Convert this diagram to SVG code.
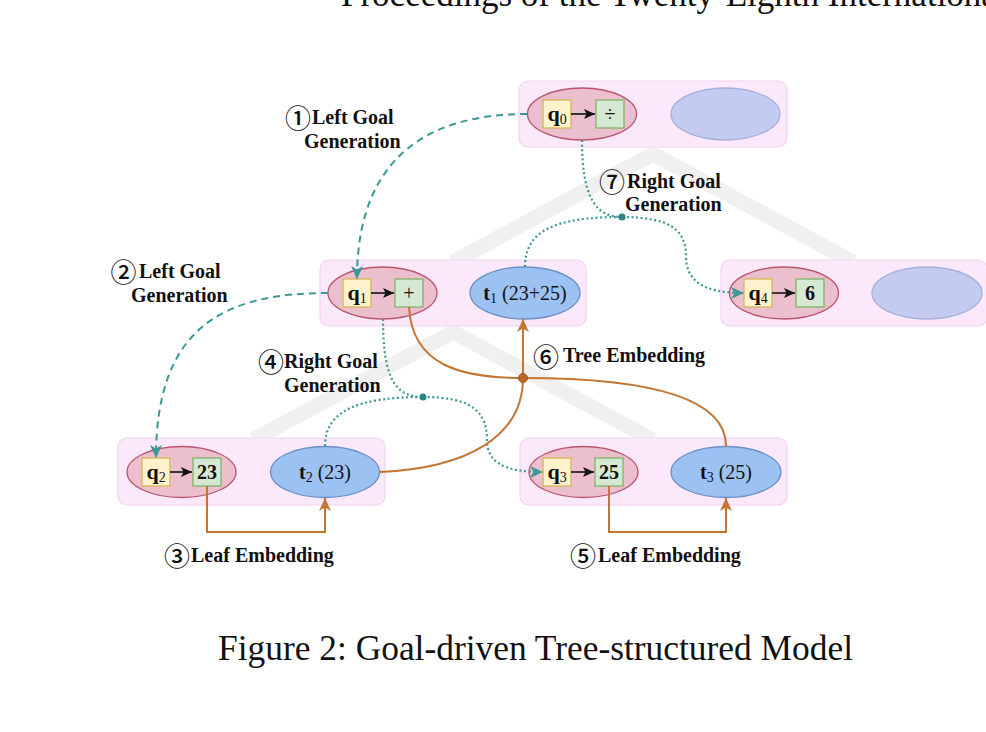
<svg xmlns="http://www.w3.org/2000/svg" width="986" height="732" viewBox="0 0 986 732">
<defs>
<style>
.band{fill:none;stroke:#f0f0f0;stroke-width:15;stroke-linejoin:miter}
.grp{fill:#fbe8fb;stroke:#f4d2f2;stroke-width:1.2}
.red{fill:#ecbfce;stroke:#b9566c;stroke-width:1.3}
.blue{fill:#9cc2f4;stroke:#6b8fc4;stroke-width:1.3}
.lav{fill:#c3cbf0;stroke:#a6b1dc;stroke-width:1.3}
.yb{fill:#fff2cc;stroke:#d6b656;stroke-width:1.3}
.gb{fill:#d5e8d4;stroke:#82b366;stroke-width:1.3}
.in{stroke:#111;stroke-width:1.6;fill:none}
.nl{font-family:"Liberation Serif","Times New Roman",serif;font-size:20px;fill:#111}
.b{font-weight:bold}
.lab{font-family:"Liberation Serif","Times New Roman",serif;font-size:20px;font-weight:bold;fill:#111}
.num{font-family:"Noto Sans CJK SC","DejaVu Sans",sans-serif;font-size:26px;font-weight:500;fill:#111}
.dash{fill:none;stroke:#3a9896;stroke-width:2;stroke-dasharray:7,5}
.dot{fill:none;stroke:#3a9896;stroke-width:2.2;stroke-dasharray:2,2.6}
.org{fill:none;stroke:#c47532;stroke-width:2}
.cap{font-family:"Liberation Serif","Times New Roman",serif;font-size:35px;fill:#111}
</style>
<marker id="ab" markerUnits="userSpaceOnUse" markerWidth="12" markerHeight="10" refX="11" refY="5" orient="auto"><path d="M0,0 L11,5 L0,10 L2.5,5 Z" fill="#111"/></marker>
<marker id="at" markerUnits="userSpaceOnUse" markerWidth="14" markerHeight="14" refX="13" refY="7" orient="auto"><path d="M0,1 L13,7 L0,13 L3.5,7 Z" fill="#3a9896"/></marker>
<marker id="ao" markerUnits="userSpaceOnUse" markerWidth="14" markerHeight="12" refX="13" refY="6" orient="auto"><path d="M0,0 L13,6 L0,12 L3.5,6 Z" fill="#c47532"/></marker>
</defs>

<text class="cap" x="341" y="6">Proceedings of the Twenty-Eighth International</text>

<g id="tree-bands">
<path class="band" d="M453,262 L653,154 L853,262"/>
<path class="band" d="M253,440 L453,332 L653,440"/>
</g>

<g id="node-root">
<rect class="grp" x="519" y="81" width="268" height="66" rx="9"/>
<ellipse class="red" cx="582" cy="114" rx="54.5" ry="26"/>
<rect class="yb" x="543" y="100" width="28" height="28"/>
<rect class="gb" x="596" y="100" width="28" height="28"/>
<line class="in" x1="571" y1="114" x2="595" y2="114" marker-end="url(#ab)"/>
<text class="nl" x="557" y="121" text-anchor="middle"><tspan class="b" font-size="22">q</tspan><tspan font-size="14" dy="3">0</tspan></text>
<text class="nl" x="610" y="121" text-anchor="middle">÷</text>
<ellipse class="lav" cx="725.5" cy="114" rx="54.5" ry="26"/>
</g>

<g id="node-plus">
<rect class="grp" x="320" y="260" width="266" height="66" rx="9"/>
<ellipse class="red" cx="382.5" cy="293" rx="54.5" ry="26"/>
<rect class="yb" x="343" y="279" width="28" height="28"/>
<rect class="gb" x="395" y="279" width="28" height="28"/>
<line class="in" x1="371" y1="293" x2="394" y2="293" marker-end="url(#ab)"/>
<text class="nl" x="357" y="300" text-anchor="middle"><tspan class="b" font-size="22">q</tspan><tspan font-size="14" dy="3">1</tspan></text>
<text class="nl" x="409" y="300" text-anchor="middle">+</text>
<ellipse class="blue" cx="525" cy="293" rx="55" ry="26"/>
<text class="nl" x="525" y="300" text-anchor="middle"><tspan class="b">t</tspan><tspan font-size="14" dy="3">1</tspan><tspan dy="-3"> (23+25)</tspan></text>
</g>

<g id="node-six">
<rect class="grp" x="721" y="260" width="266" height="66" rx="9"/>
<ellipse class="red" cx="784" cy="293" rx="54.5" ry="26"/>
<rect class="yb" x="744" y="279" width="28" height="28"/>
<rect class="gb" x="796" y="279" width="28" height="28"/>
<line class="in" x1="772" y1="293" x2="795" y2="293" marker-end="url(#ab)"/>
<text class="nl" x="758" y="300" text-anchor="middle"><tspan class="b" font-size="22">q</tspan><tspan font-size="14" dy="3">4</tspan></text>
<text class="nl b" x="810" y="300" text-anchor="middle" font-size="21">6</text>
<ellipse class="lav" cx="927" cy="293" rx="55" ry="26"/>
</g>

<g id="node-23">
<rect class="grp" x="118" y="438" width="267" height="67" rx="9"/>
<ellipse class="red" cx="181.5" cy="472" rx="54.5" ry="25.5"/>
<rect class="yb" x="142" y="458" width="28" height="28"/>
<rect class="gb" x="193" y="458" width="28" height="28"/>
<line class="in" x1="170" y1="472" x2="192" y2="472" marker-end="url(#ab)"/>
<text class="nl" x="156" y="479" text-anchor="middle"><tspan class="b" font-size="22">q</tspan><tspan font-size="14" dy="3">2</tspan></text>
<text class="nl b" x="207" y="479" text-anchor="middle" font-size="21">23</text>
<ellipse class="blue" cx="325" cy="472" rx="54.5" ry="25.5"/>
<text class="nl" x="325" y="479" text-anchor="middle"><tspan class="b">t</tspan><tspan font-size="14" dy="3">2</tspan><tspan dy="-3"> (23)</tspan></text>
</g>

<g id="node-25">
<rect class="grp" x="520" y="438" width="267" height="67" rx="9"/>
<ellipse class="red" cx="583.5" cy="472" rx="54.5" ry="25.5"/>
<rect class="yb" x="543" y="458" width="28" height="28"/>
<rect class="gb" x="595" y="458" width="28" height="28"/>
<line class="in" x1="571" y1="472" x2="594" y2="472" marker-end="url(#ab)"/>
<text class="nl" x="557" y="479" text-anchor="middle"><tspan class="b" font-size="22">q</tspan><tspan font-size="14" dy="3">3</tspan></text>
<text class="nl b" x="609" y="479" text-anchor="middle" font-size="21">25</text>
<ellipse class="blue" cx="726" cy="472" rx="55" ry="25.5"/>
<text class="nl" x="726" y="479" text-anchor="middle"><tspan class="b">t</tspan><tspan font-size="14" dy="3">3</tspan><tspan dy="-3"> (25)</tspan></text>
</g>

<g id="connectors">
<path class="dash" d="M527,114 C450,114 357,140 357,279" marker-end="url(#at)"/>
<path class="dash" d="M328,293 C220,293 156,330 156,458" marker-end="url(#at)"/>
<path class="dot" d="M383,319 C383,378 395,397 423,397"/>
<path class="dot" d="M325,446 C325,410 360,397 423,397"/>
<path class="dot" d="M423,397 C472,397 487,412 487,440 C487,463 505,472 543,472" marker-end="url(#at)"/>
<circle cx="423" cy="397" r="3.5" fill="#2f8583"/>
<path class="dot" d="M582,140 C582,198 596,217 622,217"/>
<path class="dot" d="M525,267 C525,232 552,217 622,217"/>
<path class="dot" d="M622,217 C670,217 686,230 686,256 C686,281 703,293 744,293" marker-end="url(#at)"/>
<circle cx="622" cy="217" r="3.5" fill="#2f8583"/>
<path class="org" d="M207,486 L207,532 L325,532 L325,498" marker-end="url(#ao)"/>
<path class="org" d="M609,486 L609,532 L726,532 L726,498" marker-end="url(#ao)"/>
<path class="org" d="M409,307 C412,365 460,378 523,378"/>
<path class="org" d="M523,378 C650,378 726,398 726,446"/>
<path class="org" d="M379.5,472 C470,468 523,435 523,378 L523,319" marker-end="url(#ao)"/>
<circle cx="523" cy="378" r="4.5" fill="#b8692a" stroke="#9c5620" stroke-width="1"/>
</g>

<g id="labels">
<text class="num" x="298" y="127.5" text-anchor="middle">①</text>
<text class="lab" x="312" y="124">Left Goal</text>
<text class="lab" x="304" y="148">Generation</text>
<text class="num" x="123.5" y="281.5" text-anchor="middle">②</text>
<text class="lab" x="139" y="278">Left Goal</text>
<text class="lab" x="131" y="302">Generation</text>
<text class="num" x="177" y="565.5" text-anchor="middle">③</text>
<text class="lab" x="191" y="562">Leaf Embedding</text>
<text class="num" x="271" y="371.5" text-anchor="middle">④</text>
<text class="lab" x="284" y="368">Right Goal</text>
<text class="lab" x="284" y="392">Generation</text>
<text class="num" x="583" y="565.5" text-anchor="middle">⑤</text>
<text class="lab" x="598" y="562">Leaf Embedding</text>
<text class="num" x="546" y="366.5" text-anchor="middle">⑥</text>
<text class="lab" x="563" y="362">Tree Embedding</text>
<text class="num" x="612" y="191.5" text-anchor="middle">⑦</text>
<text class="lab" x="627" y="188">Right Goal</text>
<text class="lab" x="625" y="211">Generation</text>
</g>

<text class="cap" x="218" y="660" textLength="635" lengthAdjust="spacingAndGlyphs">Figure 2: Goal-driven Tree-structured Model</text>
</svg>
